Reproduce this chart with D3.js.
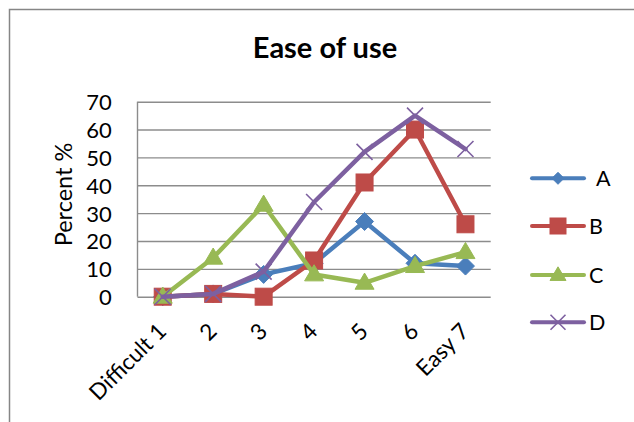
<!DOCTYPE html>
<html>
<head>
<meta charset="utf-8">
<script src="https://cdn.jsdelivr.net/npm/d3@7"></script>
<style>
  body { margin: 0; background: #fff; }
  svg { display: block; font-family: Lato, "Open Sans", sans-serif; }
</style>
</head>
<body>
<div id="chart"></div>
<script>
// categories on the x axis
var categories = ['Difficult 1', '2', '3', '4', '5', '6', 'Easy 7'];

// percent per rating, one array per series
var seriesA = [0, 1, 8, 12, 27, 12, 11];
var seriesB = [0, 1, 0, 13, 41, 60, 26];
var seriesC = [0, 14, 33, 8, 5, 11, 16];
var seriesD = [0, 1, 9, 34, 52, 65, 53];

var seriesNames = ['A', 'B', 'C', 'D'];
var yTicks = [0, 10, 20, 30, 40, 50, 60, 70];

var width = 634, height = 422;
var plot = { left: 137.5, top: 101.7, right: 490.7, bottom: 296.7 };

var colors = ['#4a7ebb', '#be4b48', '#98b954', '#7d60a0'];
var markers = ['diamond', 'square', 'triangle', 'cross'];

var allSeries = [seriesA, seriesB, seriesC, seriesD].map(function (vals, i) {
  return { name: seriesNames[i], values: vals, color: colors[i], marker: markers[i] };
});

var svg = d3.select('#chart').append('svg')
  .attr('width', width)
  .attr('height', height);

// outer chart border (runs off the right and bottom)
svg.append('rect')
  .attr('x', 9.5).attr('y', 9.5)
  .attr('width', 700).attr('height', 500)
  .attr('fill', 'none')
  .attr('stroke', '#868686')
  .attr('stroke-width', 1.5);

var x = d3.scaleBand()
  .domain(categories)
  .range([plot.left, plot.right]);

var y = d3.scaleLinear()
  .domain([0, 70])
  .range([plot.bottom, plot.top]);

// title
svg.append('text')
  .attr('x', 325).attr('y', 58.3)
  .attr('text-anchor', 'middle')
  .style('font-size', '29px')
  .style('font-weight', 'bold')
  .text('Ease of use');

// gridlines + y labels
var yAxis = d3.axisLeft(y).tickValues(yTicks).tickSize(0).tickPadding(0);
var gy = svg.append('g')
  .attr('transform', 'translate(' + plot.left + ',0)')
  .call(yAxis);
gy.select('.domain').remove();
gy.selectAll('.tick text')
  .attr('x', -25.8)
  .attr('dy', '0.36em')
  .style('font-size', '22px')
  .style('font-family', 'Lato, sans-serif')
  .attr('fill', '#000');
gy.selectAll('.tick').append('line')
  .attr('x1', 0).attr('x2', plot.right - plot.left)
  .attr('stroke', '#8c8c8c')
  .attr('stroke-width', 1.4);

// left axis line
svg.append('line')
  .attr('x1', plot.left).attr('x2', plot.left)
  .attr('y1', plot.top).attr('y2', plot.bottom)
  .attr('stroke', '#8c8c8c')
  .attr('stroke-width', 1.4);

// x labels, rotated
var xAxis = d3.axisBottom(x).tickSize(0).tickPadding(0);
var gx = svg.append('g')
  .attr('transform', 'translate(0,' + plot.bottom + ')')
  .call(xAxis);
gx.select('.domain').remove();
gx.selectAll('.tick text')
  .attr('y', 0).attr('dy', 0)
  .attr('text-anchor', 'end')
  .attr('transform', 'translate(5,36) rotate(-45)')
  .style('font-size', '22.5px')
  .style('font-family', 'Lato, sans-serif')
  .attr('fill', '#000');

// y axis title
svg.append('text')
  .attr('transform', 'translate(71.5,194.5) rotate(-90)')
  .attr('text-anchor', 'middle')
  .style('font-size', '23.5px')
  .text('Percent %');

var line = d3.line()
  .x(function (d, i) { return x(categories[i]) + x.bandwidth() / 2; })
  .y(function (d) { return y(d); });

function drawMarker(g, type, color, size) {
  if (type === 'cross') {
    var h = size / 2;
    g.append('path')
      .attr('d', 'M' + (-h) + ',' + (-h) + 'L' + h + ',' + h + 'M' + (-h) + ',' + h + 'L' + h + ',' + (-h))
      .attr('stroke', color)
      .attr('stroke-width', 1.6)
      .attr('fill', 'none');
    return;
  }
  if (type === 'diamond') {
    var r = size / 2;
    g.append('path')
      .attr('d', 'M0,' + (-r) + 'L' + r + ',0L0,' + r + 'L' + (-r) + ',0Z')
      .attr('fill', color).attr('stroke', color).attr('stroke-width', 1);
    return;
  }
  if (type === 'square') {
    g.append('rect')
      .attr('x', -size / 2).attr('y', -size / 2)
      .attr('width', size).attr('height', size)
      .attr('fill', color).attr('stroke', color).attr('stroke-width', 1);
    return;
  }
  if (type === 'triangle') {
    var hw = size / 2, th = size * 0.85;
    g.append('path')
      .attr('d', 'M0,' + (-th * 0.6) + 'L' + hw + ',' + (th * 0.4) + 'L' + (-hw) + ',' + (th * 0.4) + 'Z')
      .attr('fill', color).attr('stroke', color).attr('stroke-width', 1);
  }
}

var markerSize = { diamond: 18, square: 17, triangle: 19, cross: 16 };

allSeries.forEach(function (s) {
  var g = svg.append('g').attr('class', 'series');
  g.append('path')
    .datum(s.values)
    .attr('d', line)
    .attr('fill', 'none')
    .attr('stroke', s.color)
    .attr('stroke-width', 4.5)
    .attr('stroke-linejoin', 'round')
    .attr('stroke-linecap', 'round');
  s.values.forEach(function (v, i) {
    var mg = g.append('g')
      .attr('transform', 'translate(' + (x(categories[i]) + x.bandwidth() / 2) + ',' + y(v) + ')');
    drawMarker(mg, s.marker, s.color, markerSize[s.marker]);
  });
});

// legend
var legendY = [178.3, 226, 275, 322.3];
var legend = svg.append('g');
allSeries.forEach(function (s, i) {
  var lg = legend.append('g').attr('transform', 'translate(0,' + legendY[i] + ')');
  lg.append('line')
    .attr('x1', 532).attr('x2', 584)
    .attr('stroke', s.color)
    .attr('stroke-width', 4)
    .attr('stroke-linecap', 'round');
  var mg = lg.append('g').attr('transform', 'translate(558,0)');
  var ls = { diamond: 12, square: 16, triangle: 16, cross: 15 };
  drawMarker(mg, s.marker, s.color, ls[s.marker]);
  lg.append('text')
    .attr('x', i === 0 ? 596 : 589)
    .attr('y', 7.5)
    .style('font-size', '21.5px')
    .text(s.name);
});
</script>
</body>
</html>
